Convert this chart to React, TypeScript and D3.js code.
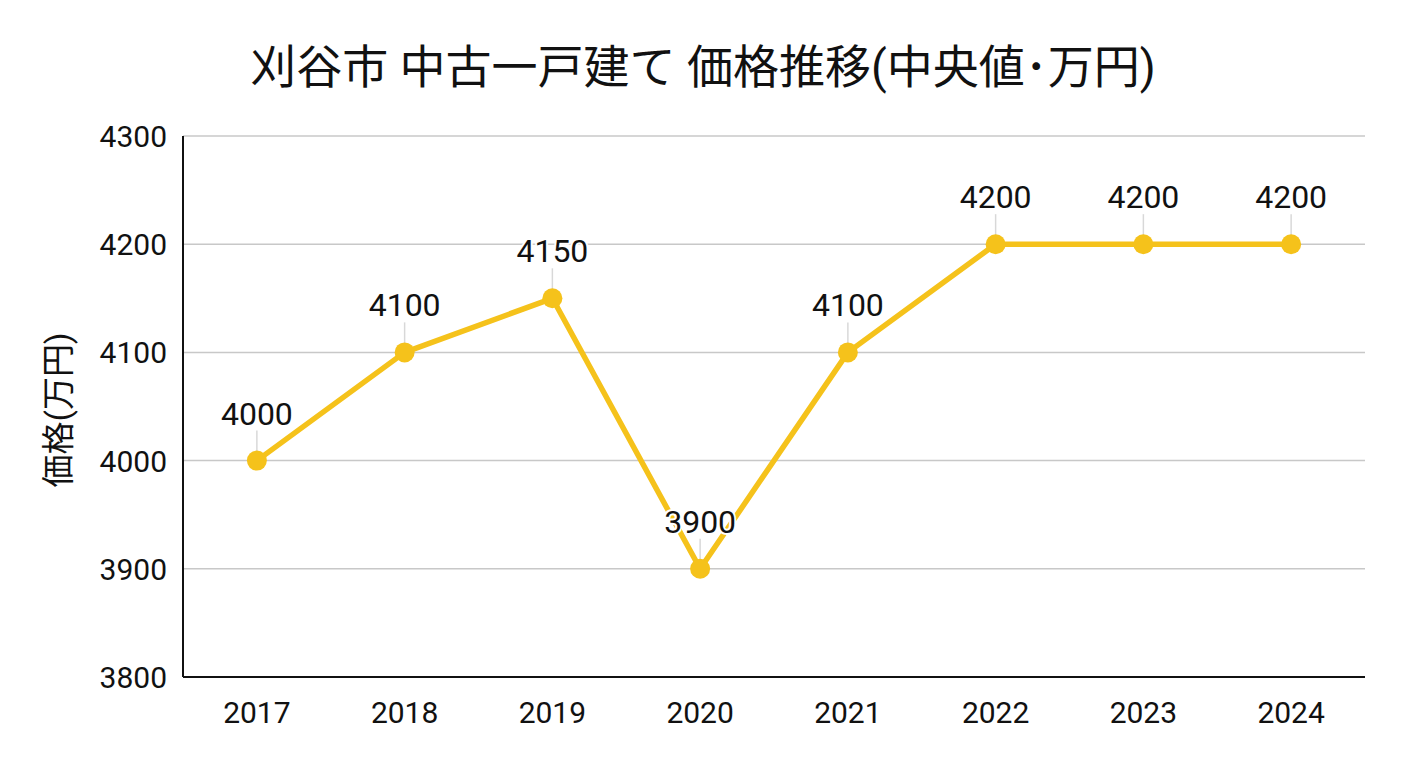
import * as d3 from "d3";

const years = ["2017", "2018", "2019", "2020", "2021", "2022", "2023", "2024"];
const prices = [4000, 4100, 4150, 3900, 4100, 4200, 4200, 4200];
const yTicks = [3800, 3900, 4000, 4100, 4200, 4300];

const W = 1408;
const H = 768;
const left = 183;
const right = 1365;
const top = 136;
const bottom = 677;
const font = "Roboto, 'Noto Sans CJK JP', sans-serif";
const color = "#F5C21B";

export default function App() {
  const x = d3.scalePoint<string>().domain(years).range([left, right]).padding(0.5);
  const y = d3.scaleLinear().domain([3800, 4300]).range([bottom, top]);
  const line = d3
    .line<number>()
    .x((_, i) => x(years[i]) as number)
    .y(d => y(d));

  return (
    <svg width={W} height={H} style={{ display: "block", position: "absolute", left: 0, top: 0 }}>
      <rect width={W} height={H} fill="#fff" />
      <text x={703} y={83} textAnchor="middle" fontFamily={font} fontSize={46} fill="#111">
        刈谷市 中古一戸建て 価格推移(中央値･万円)
      </text>
      {/* grid */}
      {yTicks.map(t => (
        <g key={t}>
          {t !== 3800 && (
            <line x1={left} x2={right} y1={y(t)} y2={y(t)} stroke="#c8c8c8" strokeWidth={1.5} />
          )}
          <text x={167} y={y(t) + 11} textAnchor="end" fontFamily={font} fontSize={30} fill="#111">
            {t}
          </text>
        </g>
      ))}
      <line x1={left} x2={left} y1={top} y2={bottom} stroke="#111" strokeWidth={2} />
      <line x1={left} x2={right} y1={bottom} y2={bottom} stroke="#111" strokeWidth={2} />
      {years.map(yr => (
        <text key={yr} x={x(yr)} y={723} textAnchor="middle" fontFamily={font} fontSize={30} fill="#111">
          {yr}
        </text>
      ))}
      <text
        transform={`translate(70,${410}) rotate(-90)`}
        textAnchor="middle"
        fontFamily={font}
        fontSize={33}
        fill="#111"
      >
        価格(万円)
      </text>
      {/* leader lines */}
      {prices.map((p, i) => (
        <line
          key={i}
          x1={x(years[i])}
          x2={x(years[i])}
          y1={y(p) - 30}
          y2={y(p)}
          stroke="#d8d8d8"
          strokeWidth={1.5}
        />
      ))}
      <path d={line(prices) || undefined} fill="none" stroke={color} strokeWidth={5.5} strokeLinejoin="round" />
      {prices.map((p, i) => (
        <circle key={i} cx={x(years[i])} cy={y(p)} r={10} fill={color} />
      ))}
      {prices.map((p, i) => (
        <text
          key={i}
          x={x(years[i])}
          y={y(p) - 36}
          textAnchor="middle"
          fontFamily={font}
          fontSize={32}
          fill="#111"
          stroke="#fff"
          strokeWidth={4}
          paintOrder="stroke"
          strokeLinejoin="round"
        >
          {p}
        </text>
      ))}
    </svg>
  );
}
